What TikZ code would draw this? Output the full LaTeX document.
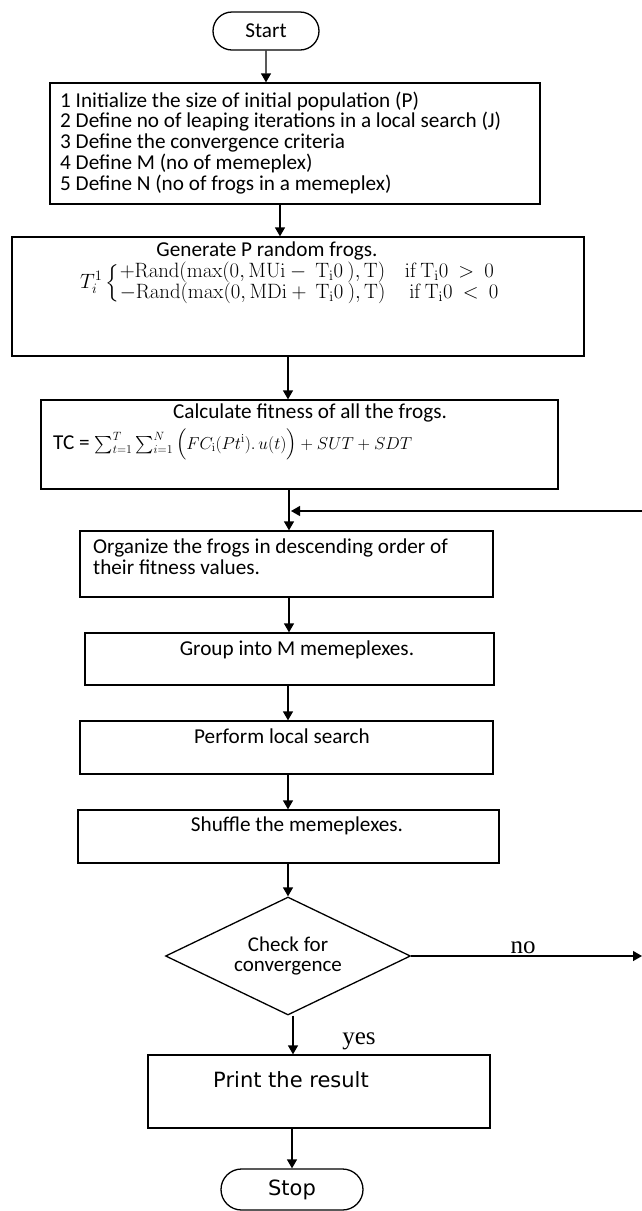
\documentclass[tikz,border=0pt]{standalone}
\usepackage{amsmath}
\usepackage[no-math]{fontspec}
\setmainfont{Carlito}
\newfontfamily\tahfont{DejaVu Sans}
\newfontfamily\serfont{Liberation Serif}
\usetikzlibrary{shapes.geometric,shapes.misc,arrows.meta,calc}

\tikzset{
  box/.style={draw, line width=1.3pt, inner sep=0pt},
  term/.style={draw, rounded rectangle, line width=1.3pt, inner sep=0pt},
  txt/.style={inner sep=0pt, font=\fontsize{21.2}{24}\selectfont},
  onel/.style={txt, text height=15pt, text depth=4pt},
  arr/.style={line width=1.3pt, -{Triangle[length=9pt,width=10pt]}}
}

\begin{document}
\begin{tikzpicture}[x=1pt,y=-1pt]
\useasboundingbox (0,0) rectangle (642,1211);

\node[term, txt, minimum width=106pt, minimum height=38pt] (start) at (266,31) {Start};

\node[box, minimum width=490pt, minimum height=121pt] (init) at (295,143.5) {};
\foreach \t [count=\i] in {Initialize the size of initial population (P),
  Define no of leaping iterations in a local search (J),
  Define the convergence criteria,
  Define M (no of memeplex),
  Define N (no of frogs in a memeplex)}
\node[txt, anchor=base west] (init-\i) at (60,{107+(\i-1)*20.75}) {\i\ \t};

\node[box, minimum width=572pt, minimum height=119pt] (gen) at (298,296.5) {};
\node[onel] (gen-t) at (267,251) {Generate P random frogs.};
\node[anchor=west, inner sep=0pt, font=\fontsize{19.5}{22}\selectfont] (gen-f) at (80,283)
{\renewcommand{\arraystretch}{0.78}$T_i^1\left\{\begin{array}{@{}l@{\quad}l@{}}
+\mathrm{Rand}(\max(0,\mathrm{MUi}-\ \mathrm{T_i0}\ ),\mathrm{T}) & \mathrm{if}\,\mathrm{T_i0}\ >\ 0\\
-\mathrm{Rand}(\max(0,\mathrm{MDi}+\ \mathrm{T_i0}\ ),\mathrm{T}) & \ \mathrm{if}\,\mathrm{T_i0}\ <\ 0
\end{array}\right.$};

\node[box, minimum width=517pt, minimum height=89pt] (calc) at (299.5,444.5) {};
\node[onel] (calc-t) at (310,413) {Calculate fitness of all the frogs.};
\node[txt, anchor=base west] (calc-f) at (53,449)
{TC = {\fontsize{18.2}{22}\selectfont$\sum_{t=1}^{T}\sum_{i=1}^{N}\Big(FC_{\mathrm{i}}(Pt^{\mathrm{i}}).\,u(t)\Big)+SUT+SDT$}};

\node[box, minimum width=413pt, minimum height=66pt] (org) at (286.5,564) {};
\node[txt, anchor=base west] (org-1) at (93,553) {Organize the frogs in descending order of};
\node[txt, anchor=base west] (org-2) at (93,574) {their fitness values.};

\node[box, minimum width=409pt, minimum height=52pt] (grp) at (289.5,659) {};
\node[onel] (grp-t) at (297,650) {Group into M memeplexes.};

\node[box, minimum width=413pt, minimum height=53pt] (loc) at (286.5,747.5) {};
\node[onel] (loc-t) at (282,738) {Perform local search};

\node[box, minimum width=421pt, minimum height=53pt] (shuf) at (288.5,836.5) {};
\node[onel] (shuf-t) at (297,826) {Shuffle the memeplexes.};

\node[draw, diamond, aspect=2, line width=1.3pt, inner sep=0pt, minimum width=245pt,
  minimum height=118pt, align=center, font=\fontsize{21}{20}\selectfont] (chk) at (288,956)
  {Check for\\convergence};

\node[box, minimum width=342pt, minimum height=73pt] (print) at (319,1091.5) {};
\node[inner sep=0pt, font=\tahfont\fontsize{21}{24}\selectfont] (print-t) at (291,1080) {Print the result};

\node[term, font=\tahfont\fontsize{21}{24}\selectfont, minimum width=142pt, minimum height=41pt] (stop) at (292,1189.5) {Stop};

\coordinate (noend) at (642,956);
\coordinate (back) at (642,511);
\node[inner sep=0pt, anchor=base, font=\serfont\fontsize{25}{25}\selectfont] (no) at (523,953) {no};
\node[inner sep=0pt, anchor=base, font=\serfont\fontsize{25}{25}\selectfont] (yes) at (359,1044) {yes};

\draw[arr] (start) -- (start |- init.north);
\draw[arr] ([xshift=-15pt]init.south) -- ([xshift=-15pt]init.south |- gen.north);
\draw[arr] ([xshift=-10pt]gen.south) -- ([xshift=-10pt]gen.south |- calc.north);
\draw[arr] ([xshift=2.5pt]org.north |- calc.south) -- ([xshift=2.5pt]org.north);
\draw[arr] ([xshift=2.5pt]org.south) -- ([xshift=2.5pt]org.south |- grp.north);
\draw[arr] ([xshift=-1.5pt]grp.south) -- ([xshift=-1.5pt]grp.south |- loc.north);
\draw[arr] ([xshift=1.5pt]loc.south) -- ([xshift=1.5pt]loc.south |- shuf.north);
\draw[arr] (chk.north |- shuf.south) -- (chk.north);
\draw[arr] ([xshift=5pt]chk.south) -- ([xshift=5pt]chk.south |- print.north);
\draw[arr] (stop.north |- print.south) -- (stop.north);
\draw[arr] (chk.east) -- (noend);
\draw[arr] (back) -- ([xshift=4.5pt]org.north |- back);
\end{tikzpicture}
\end{document}
